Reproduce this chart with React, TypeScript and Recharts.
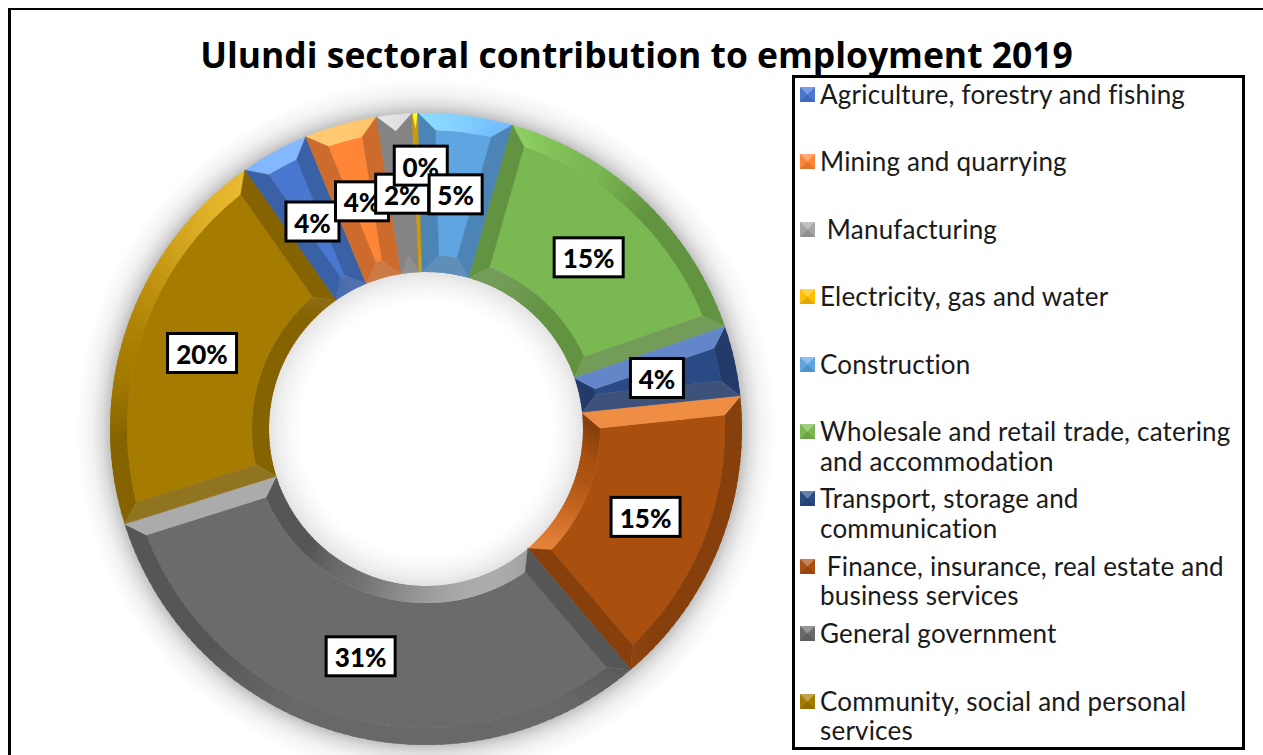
import React from 'react';
import { PieChart, Pie, Legend } from 'recharts';

const sectors = [
  'Agriculture, forestry and fishing',
  'Mining and quarrying',
  ' Manufacturing',
  'Electricity, gas and water',
  'Construction',
  'Wholesale and retail trade, catering and accommodation',
  'Transport, storage and communication',
  ' Finance, insurance, real estate and business services',
  'General government',
  'Community, social and personal services',
];
const shares = [3.5, 3.7, 1.8, 0.3, 4.8, 15.3, 3.6, 15.4, 31.3, 20.1];
const colors = ['#4878d0', '#ff8637', '#a5a5a5', '#ffc000', '#5ea5e2', '#7ab851', '#2a4a85', '#a9500f', '#6b6b6b', '#a67c00'];

const data = sectors.map((name, i) => ({ name, value: shares[i], fill: colors[i] }));

const FONT = 'Lato, sans-serif';
const BEVEL = 17;
const RAD = Math.PI / 180;

const hexToRgb = (hex: string) => [1, 3, 5].map((i) => parseInt(hex.slice(i, i + 2), 16));

const clamp01 = (v: number) => Math.max(0, Math.min(1, v));

// facet colour from how much it faces the light (up and a bit to the left)
const litColor = (hex: string, light: number, up: number) => {
  const rgb = hexToRgb(hex);
  const t = Math.pow(clamp01((light - 0.55) / 0.45), 1.8);
  const base = 0.8 + 0.2 * clamp01((light - 0.35) / 0.2);
  const muted = clamp01((-up - 0.7) / 0.2);
  const out = rgb.map((c) => {
    let v = t > 0 ? Math.min(255, c * (1 + 0.4 * t)) * (1 - 0.2 * t) + 255 * 0.2 * t : c * base;
    if (muted > 0) v = v + ((c * 0.9 * 0.75 + 128 * 0.25) - v) * muted;
    return Math.round(v);
  });
  return `rgb(${out.join(',')})`;
};

const rimColor = (hex: string, nx: number, ny: number) => litColor(hex, -0.4 * nx + 0.92 * ny, ny);
const edgeColor = (hex: string, up: number) => litColor(hex, up > 0.8 ? 1 : 0.2, up);

// soft shadow around the ring, also shows inside the hole. Drawn with the first
// slice so it sits under all of them.
const RingShadow = ({ cx, cy, ri, ro }: { cx: number; cy: number; ri: number; ro: number }) => {
  const R = ro + 34;
  const stop = (r: number, o: number) => <stop offset={r / R} stopColor="#000" stopOpacity={o} />;
  return (
    <g>
      <defs>
        <radialGradient id="ringShadow" gradientUnits="userSpaceOnUse" cx={cx} cy={cy} r={R}>
          {stop(ri - 32, 0)}
          {stop(ri - 20, 0.025)}
          {stop(ri - 8, 0.07)}
          {stop(ri, 0.11)}
          {stop(ro, 0.24)}
          {stop(ro + 8, 0.13)}
          {stop(ro + 18, 0.05)}
          {stop(ro + 34, 0)}
        </radialGradient>
      </defs>
      <circle cx={cx} cy={cy} r={R} fill="url(#ringShadow)" />
    </g>
  );
};

const BevelSector = (props: any) => {
  const { cx, cy, innerRadius: ri, outerRadius: ro, startAngle: a0, endAngle: a1, fill, name } = props;
  const pt = (r: number, a: number) => [cx + r * Math.cos(a * RAD), cy - r * Math.sin(a * RAD)];
  const poly = (pts: number[][]) => pts.map((p) => `${p[0].toFixed(2)},${p[1].toFixed(2)}`).join(' ');
  const half = (a0 - a1) / 2;
  const insetO = Math.min(half, Math.asin(BEVEL / (ro - BEVEL)) / RAD);
  const insetI = Math.min(half, Math.asin(BEVEL / (ri + BEVEL)) / RAD);
  const oR = ro - BEVEL;
  const iR = ri + BEVEL;
  const parts: React.ReactNode[] = [];
  const quad = (key: string, pts: number[][], color: string, sw = 0.5) => (
    <polygon key={key} points={poly(pts)} fill={color} stroke={sw ? color : 'none'} strokeWidth={sw} />
  );
  const lerp = (s: number, e: number, f: number) => s + (e - s) * f;

  if (name === sectors[0]) parts.push(<RingShadow key="shadow" cx={cx} cy={cy} ri={ri} ro={ro} />);

  const steps = Math.max(1, Math.ceil((a0 - a1) / 1.5));
  const facePts: number[][] = [];
  for (let i = 0; i <= steps; i++) facePts.push(pt(oR, lerp(a0 - insetO, a1 + insetO, i / steps)));
  for (let i = steps; i >= 0; i--) facePts.push(pt(iR, lerp(a0 - insetI, a1 + insetI, i / steps)));
  parts.push(quad('face', facePts, fill));

  // rims are cut in small overlapping pieces so the lighting can change along the arc
  for (let i = 0; i < steps; i++) {
    const f0 = i / steps;
    const f1 = Math.min(1, (i + 1.6) / steps);
    const am = lerp(a0, a1, (i + 0.5) / steps);
    const nx = Math.cos(am * RAD);
    const ny = Math.sin(am * RAD);
    parts.push(
      quad(
        `o${i}`,
        [pt(ro, lerp(a0, a1, f0)), pt(ro, lerp(a0, a1, f1)), pt(oR, lerp(a0 - insetO, a1 + insetO, f1)), pt(oR, lerp(a0 - insetO, a1 + insetO, f0))],
        rimColor(fill, nx, ny),
        0,
      ),
    );
    parts.push(
      quad(
        `i${i}`,
        [pt(ri, lerp(a0, a1, f0)), pt(ri, lerp(a0, a1, f1)), pt(iR, lerp(a0 - insetI, a1 + insetI, f1)), pt(iR, lerp(a0 - insetI, a1 + insetI, f0))],
        rimColor(fill, -nx, -ny),
        0,
      ),
    );
  }
  parts.push(
    quad('s', [pt(ro, a0), pt(ri, a0), pt(iR, a0 - insetI), pt(oR, a0 - insetO)], edgeColor(fill, Math.cos(a0 * RAD))),
  );
  parts.push(
    quad('e', [pt(ro, a1), pt(ri, a1), pt(iR, a1 + insetI), pt(oR, a1 + insetO)], edgeColor(fill, -Math.cos(a1 * RAD))),
  );
  return <g>{parts}</g>;
};

const PercentLabel = (props: any) => {
  const { cx, cy, midAngle, innerRadius, outerRadius, value, index } = props;
  const r = (innerRadius + outerRadius) / 2;
  // the label of the tiny electricity slice was dragged up in the original
  const x = cx + r * Math.cos(midAngle * RAD) + (index === 3 ? 3 : 0);
  const y = cy - r * Math.sin(midAngle * RAD) + (index === 3 ? -27 : 0);
  const text = `${Math.round(value)}%`;
  const w = text.length > 2 ? 69 : 53;
  const h = 39;
  return (
    <g>
      <rect x={x - w / 2} y={y - h / 2} width={w} height={h} fill="#fff" stroke="#000" strokeWidth={3} />
      <text x={x} y={y + 1} textAnchor="middle" dominantBaseline="central" fontFamily={FONT} fontWeight={900} fontSize={26} fill="#000">
        {text}
      </text>
    </g>
  );
};

const Marker = ({ color }: { color: string }) => (
  <svg width={15} height={15} style={{ position: 'absolute', left: 0, top: 0 }}>
    <rect width={15} height={15} fill={color} />
    <polygon points="0,0 15,0 7.5,7.5" fill="#fff" fillOpacity={0.3} />
    <polygon points="0,15 15,15 7.5,7.5" fill="#000" fillOpacity={0.12} />
  </svg>
);

const LegendBox = ({ payload }: any) => (
  <div style={{ position: 'relative', width: 453, height: 675, boxSizing: 'border-box', border: '3px solid #000', background: '#fff', fontFamily: FONT, fontSize: 26, lineHeight: '29.5px', letterSpacing: 0.2, fontVariantLigatures: 'none', color: '#1a1a1a' }}>
    {(payload || []).map((item: any, i: number) => (
      <div key={i} style={{ position: 'absolute', left: 5, top: 2 + i * 67.4, width: 442 }}>
        <div style={{ position: 'absolute', left: 0, top: 7 }}>
          <Marker color={item.payload.fill} />
        </div>
        <div style={{ marginLeft: 20, whiteSpace: 'pre-wrap' }}>{item.value}</div>
      </div>
    ))}
  </div>
);

export default function App() {
  return (
    <div style={{ position: 'fixed', left: 0, top: 0, width: 1263, height: 755, overflow: 'hidden', background: '#fff' }}>
      <div style={{ position: 'absolute', left: 8, top: 8, width: 1252, height: 800, borderTop: '2px solid #000', borderLeft: '3px solid #000', borderRight: '2px solid #000' }} />
      <div style={{ position: 'absolute', left: 0, top: 0 }}>
        <PieChart width={1263} height={755} margin={{ top: 0, right: 0, bottom: 0, left: 0 }}>
          <Pie
            data={data}
            dataKey="value"
            nameKey="name"
            cx={426}
            cy={429}
            innerRadius={157}
            outerRadius={316}
            startAngle={125}
            endAngle={-235}
            stroke="none"
            shape={BevelSector}
            label={PercentLabel}
            labelLine={false}
            isAnimationActive={false}
          />
          <Legend content={LegendBox} itemSorter={null} wrapperStyle={{ position: 'absolute', left: 792, top: 75, width: 453, height: 675 }} />
        </PieChart>
      </div>
      <div style={{ position: 'absolute', left: 0, top: 30, width: 1273, textAlign: 'center', fontFamily: '"Open Sans", sans-serif', fontWeight: 700, fontSize: 35.45, lineHeight: '48px', color: '#000', pointerEvents: 'none' }}>
        Ulundi sectoral contribution to employment 2019
      </div>
    </div>
  );
}
